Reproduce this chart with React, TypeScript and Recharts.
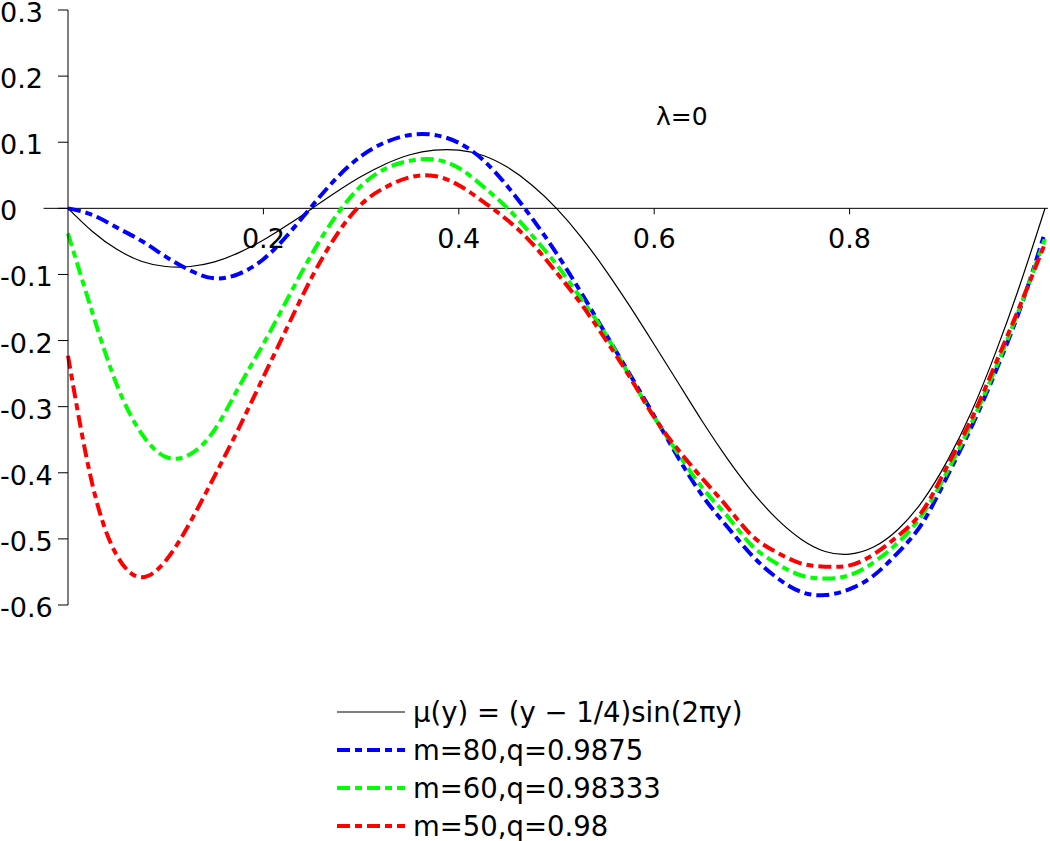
import React from 'react';
import { LineChart, Line, XAxis, YAxis, ReferenceLine, Legend } from 'recharts';

const FONT = '"DejaVu Sans", sans-serif';

// sample positions along y
const X_VALUES = [
  0, 0.025, 0.05, 0.075, 0.1, 0.125, 0.15, 0.175, 0.2, 0.225, 0.25, 0.275, 0.3, 0.325, 0.35, 0.375, 0.4,
  0.425, 0.45, 0.475, 0.5, 0.525, 0.55, 0.575, 0.6, 0.625, 0.65, 0.675, 0.7, 0.725, 0.75, 0.775, 0.8,
  0.825, 0.85, 0.875, 0.9, 0.925, 0.95, 0.975, 1,
];

// exact mu(y)
const MU = [
  0, -0.035, -0.062, -0.08, -0.088, -0.088, -0.081, -0.067, -0.048, -0.025, 0, 0.025, 0.048, 0.067, 0.081,
  0.088, 0.088, 0.08, 0.062, 0.035, 0, -0.043, -0.093, -0.148, -0.206, -0.265, -0.324, -0.379, -0.428,
  -0.469, -0.5, -0.519, -0.523, -0.512, -0.485, -0.442, -0.382, -0.307, -0.216, -0.113, 0,
];

// m=80, q=0.9875 (blue)
const M80 = [
  0, -0.01, -0.029, -0.049, -0.073, -0.094, -0.106, -0.099, -0.077, -0.04, 0.004, 0.046, 0.079, 0.1, 0.111,
  0.111, 0.099, 0.073, 0.033, -0.015, -0.068, -0.127, -0.189, -0.251, -0.314, -0.378, -0.436, -0.482,
  -0.525, -0.558, -0.58, -0.585, -0.576, -0.555, -0.52, -0.475, -0.405, -0.33, -0.245, -0.15, -0.036,
];

// m=60, q=0.98333 (green)
const M60 = [
  -0.038, -0.158, -0.267, -0.34, -0.376, -0.372, -0.335, -0.27, -0.205, -0.136, -0.068, -0.01, 0.034, 0.06,
  0.072, 0.074, 0.061, 0.033, 0, -0.041, -0.085, -0.136, -0.19, -0.254, -0.316, -0.372, -0.424, -0.466,
  -0.51, -0.537, -0.555, -0.56, -0.555, -0.535, -0.505, -0.462, -0.398, -0.324, -0.24, -0.147, -0.046,
];

// m=50, q=0.98 (red)
const M50 = [
  -0.223, -0.418, -0.525, -0.558, -0.533, -0.475, -0.405, -0.332, -0.255, -0.178, -0.103, -0.04, 0.006,
  0.032, 0.047, 0.049, 0.035, 0.01, -0.018, -0.053, -0.097, -0.144, -0.198, -0.255, -0.316, -0.366, -0.41,
  -0.452, -0.495, -0.52, -0.537, -0.542, -0.54, -0.523, -0.495, -0.457, -0.39, -0.318, -0.233, -0.145,
  -0.053,
];

const Y_TICKS = [-0.6, -0.5, -0.4, -0.3, -0.2, -0.1, 0, 0.1, 0.2, 0.3];
const Y_TICK_LABELS = ['-0.6', '-0.5', '-0.4', '-0.3', '-0.2', '-0.1', '0', '0.1', '0.2', '0.3'];
const X_TICKS = [0.2, 0.4, 0.6, 0.8];
const X_TICK_LABELS = ['0.2', '0.4', '0.6', '0.8'];
const Y_DOMAIN = [-0.6, 0.3];
const X_LINE_SPAN = [-0.025, 1.003];

const SERIES = [
  { key: 'mu', name: 'μ(y) = (y − 1/4)sin(2πy)', color: '#000000', width: 1.2, dash: undefined },
  { key: 'm80', name: 'm=80,q=0.9875', color: '#0000ff', width: 4, dash: '13 5 7 5' },
  { key: 'm60', name: 'm=60,q=0.98333', color: '#00ff00', width: 4, dash: '13 5 7 5' },
  { key: 'm50', name: 'm=50,q=0.98', color: '#ff0000', width: 4, dash: '13 5 7 5' },
];

const data = X_VALUES.map((x, i) => ({ x, mu: MU[i], m80: M80[i], m60: M60[i], m50: M50[i] }));

const W = 1050;
const H = 841;
const PLOT_TOP = 10;
const PLOT_BOTTOM = 605;
// pixel row of y = 0, where the horizontal axis sits
const ZERO_Y = PLOT_TOP + ((PLOT_BOTTOM - PLOT_TOP) * Y_DOMAIN[1]) / (Y_DOMAIN[1] - Y_DOMAIN[0]);

function XTick(props: any) {
  const { x, payload } = props;
  const idx = X_TICKS.indexOf(payload.value);
  return (
    <g>
      <line x1={x} x2={x} y1={ZERO_Y} y2={ZERO_Y + 6} stroke="#000" strokeWidth={1} />
      <text x={x} y={ZERO_Y + 40} textAnchor="middle" fontFamily={FONT} fontSize={27} fill="#000">
        {X_TICK_LABELS[idx]}
      </text>
    </g>
  );
}

function YTick(props: any) {
  const { y, payload } = props;
  const idx = Y_TICKS.indexOf(payload.value);
  return (
    <text x={0} y={y + 12} textAnchor="start" fontFamily={FONT} fontSize={27} fill="#000">
      {Y_TICK_LABELS[idx]}
    </text>
  );
}

function LegendBox() {
  return (
    <div style={{ fontFamily: FONT, fontSize: 27.5, color: '#000' }}>
      {SERIES.map((s) => (
        <div key={s.key} style={{ display: 'flex', alignItems: 'center', height: 38 }}>
          <svg width={68} height={10} style={{ marginRight: 8, flexShrink: 0 }}>
            <line x1={0} x2={68} y1={5} y2={5} stroke={s.color} strokeWidth={s.width} strokeDasharray={s.dash} />
          </svg>
          <span style={{ whiteSpace: 'nowrap' }}>{s.name}</span>
        </div>
      ))}
    </div>
  );
}

export default function App() {
  return (
    <div style={{ position: 'absolute', left: 0, top: 0, width: W, height: H, background: '#fff' }}>
      <LineChart width={W} height={H} data={data} margin={{ top: PLOT_TOP, right: 5, bottom: H - PLOT_BOTTOM - 1, left: 8 }}>
        <XAxis
          dataKey="x"
          type="number"
          domain={[0, 1]}
          ticks={X_TICKS}
          height={1}
          axisLine={false}
          tickLine={false}
          tick={<XTick />}
          interval={0}
        />
        <YAxis
          type="number"
          domain={Y_DOMAIN}
          ticks={Y_TICKS}
          width={60}
          tickSize={10}
          axisLine={{ stroke: '#000', strokeWidth: 1 }}
          tickLine={{ stroke: '#000', strokeWidth: 1 }}
          tick={<YTick />}
          interval={0}
          allowDataOverflow
        />
        <ReferenceLine
          segment={[
            { x: X_LINE_SPAN[0], y: 0 },
            { x: X_LINE_SPAN[1], y: 0 },
          ]}
          stroke="#000"
          strokeWidth={1}
          ifOverflow="visible"
        />
        {SERIES.map((s) => (
          <Line
            key={s.key}
            type="natural"
            dataKey={s.key}
            name={s.name}
            stroke={s.color}
            strokeWidth={s.width}
            strokeDasharray={s.dash}
            dot={false}
            activeDot={false}
            isAnimationActive={false}
          />
        ))}
        <Legend
          layout="horizontal"
          verticalAlign="middle"
          content={() => <LegendBox />}
          wrapperStyle={{ position: 'absolute', left: 337, top: 693, width: 560, height: 152 }}
        />
      </LineChart>
      <div
        style={{
          position: 'absolute',
          left: 656,
          top: 104,
          fontFamily: FONT,
          fontSize: 25,
          lineHeight: 1,
          whiteSpace: 'nowrap',
        }}
      >
        λ=0
      </div>
    </div>
  );
}
